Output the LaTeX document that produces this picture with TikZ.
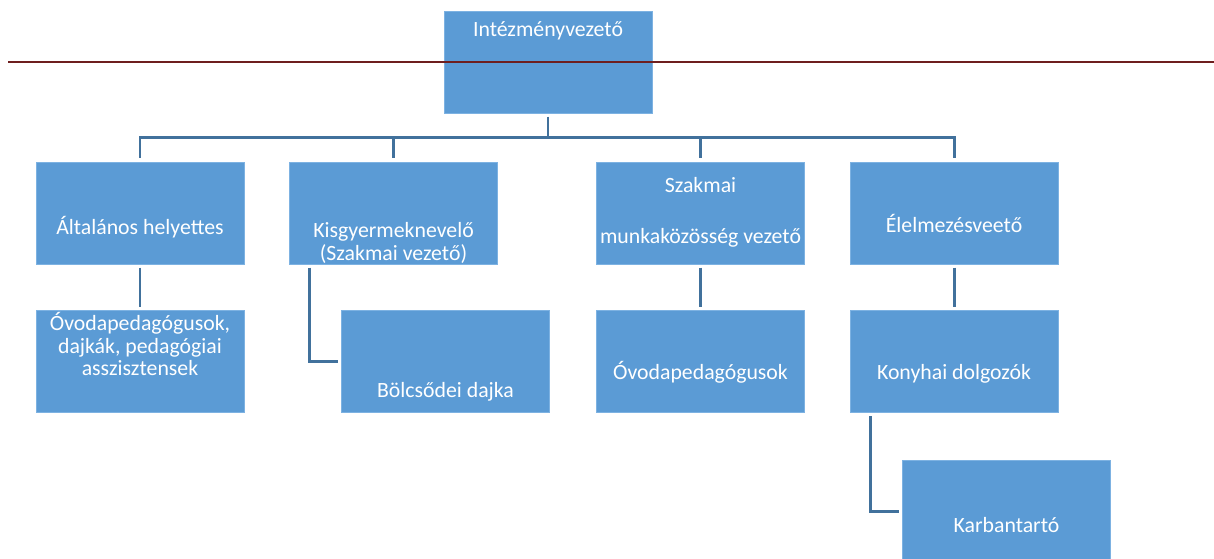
\documentclass[tikz,border=0pt]{standalone}
\usepackage{fontspec}
\setmainfont{Carlito}
\usepackage{tikz}
\usetikzlibrary{calc, positioning}
\definecolor{boxblue}{RGB}{91, 155, 213}
\definecolor{boxedge}{RGB}{125, 178, 226}
\definecolor{linkblue}{RGB}{65, 113, 156}
\definecolor{rulered}{RGB}{110, 30, 30}

\begin{document}
\begin{tikzpicture}[x=0.02cm, y=-0.02cm,
        orgbox/.style={rectangle, fill=boxblue, draw=boxedge, line width=0.4pt,
            minimum width=4.16cm, minimum height=2.04cm, inner sep=0pt, outer sep=0pt},
        orgtext/.style={text=white, anchor=base, align=center, inner sep=0pt,
            font=\fontsize{12.4}{12.8}\selectfont},
        link/.style={draw=linkblue, line width=1.7pt, shorten <=2pt, shorten >=2pt}]
        \useasboundingbox (0,0) rectangle (1214,558);

        % top level
        \node[orgbox] (vezeto) at (548,62) {};
        \node[orgtext] (t-vezeto) at ($(vezeto.north)+(0,25)$) {Intézményvezető};

        % second level (text anchored at the base of the last line)
        \node[orgbox] (helyettes) at (140,213) {};
        \node[orgbox] (kisgyermek) at (393.5,213) {};
        \node[orgbox] (szakmai) at (700.5,213) {};
        \node[orgbox] (elelmezes) at (954,213) {};
        \node[orgtext] (t-helyettes) at ($(helyettes.north)+(0,72)$) {Általános helyettes};
        \node[orgtext] (t-kisgyermek) at ($(kisgyermek.north)+(0,98)$) {Kisgyermeknevelő\\(Szakmai vezető)};
        \node[orgtext] (t-szakmai) at ($(szakmai.north)+(0,81)$) {Szakmai\\[16pt]munkaközösség vezető};
        \node[orgtext] (t-elelmezes) at ($(elelmezes.north)+(0,70)$) {Élelmezésveető};

        % third level
        \node[orgbox] (ovoda) at (140,361.5) {};
        \node[orgbox] (bolcsodei) at (445.5,361.5) {};
        \node[orgbox] (pedagogus) at (700.5,361.5) {};
        \node[orgbox] (konyhai) at (954,361.5) {};
        \node[orgbox] (karbantarto) at (1006.5,511) {};
        \node[orgtext] (t-ovoda) at ($(ovoda.north)+(0,65)$) {Óvodapedagógusok,\\dajkák, pedagógiai\\asszisztensek};
        \node[orgtext] (t-bolcsodei) at ($(bolcsodei.north)+(0,87)$) {Bölcsődei dajka};
        \node[orgtext] (t-pedagogus) at ($(pedagogus.north)+(0,69)$) {Óvodapedagógusok};
        \node[orgtext] (t-konyhai) at ($(konyhai.north)+(0,69)$) {Konyhai dolgozók};
        \node[orgtext] (t-karbantarto) at ($(karbantarto.north)+(0,72)$) {Karbantartó};

        % connectors
        \coordinate (bar) at ($(vezeto.south)+(0,25)$);
        \draw[link, shorten >=0pt] (vezeto) -- (bar);
        \foreach \sub in {helyettes, kisgyermek, szakmai, elelmezes}
            \draw[link, shorten <=0pt] (bar) -| (\sub);
        \draw[link, shorten <=0pt, shorten >=0pt, line cap=rect] ($(bar-|helyettes)$) -- ($(bar-|elelmezes)$);
        \draw[link] (helyettes) -- (ovoda);
        \draw[link] (szakmai) -- (pedagogus);
        \draw[link] (elelmezes) -- (konyhai);
        \draw[link] ($(kisgyermek.south west)+(20,0)$) |- (bolcsodei);
        \draw[link] ($(konyhai.south west)+(20,0)$) |- (karbantarto);

        % rule across the page
        \draw[rulered, line width=1.4pt] (8,62) -- (1214,62);
    \end{tikzpicture}
\end{document}
